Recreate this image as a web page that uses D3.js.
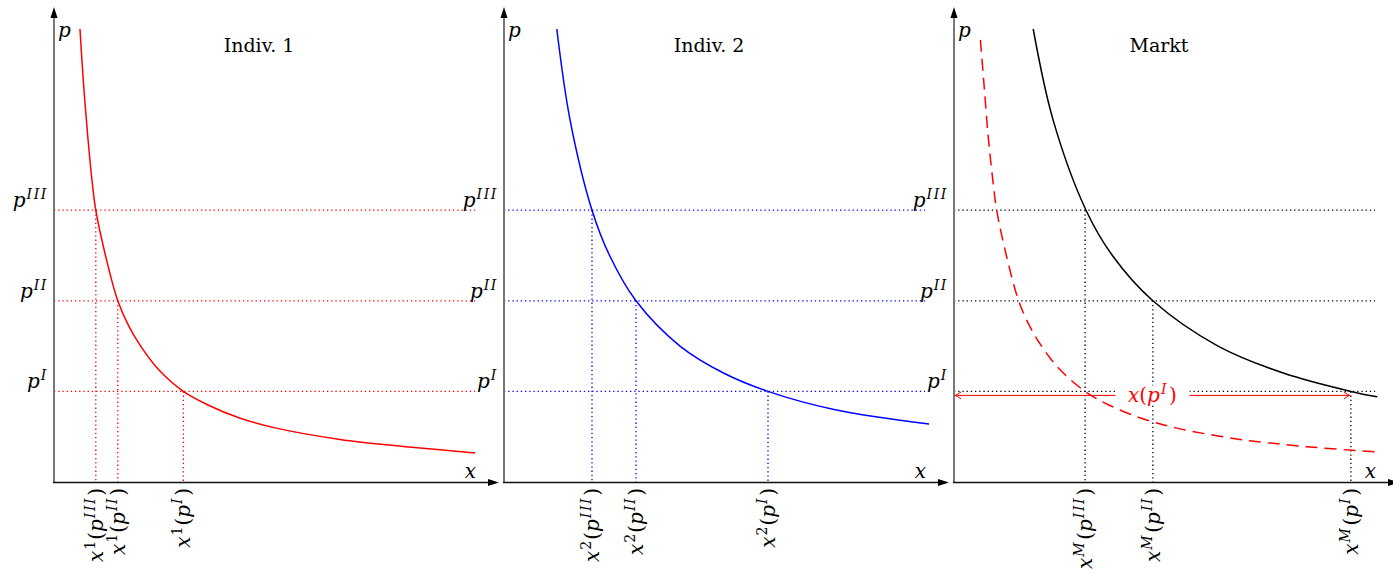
<!DOCTYPE html>
<html><head><meta charset="utf-8">
<script src="https://cdn.jsdelivr.net/npm/d3@7"></script>
<style>html,body{margin:0;padding:0;background:#fff;}</style>
</head><body>
<svg id="c" width="1393" height="574"></svg>
<script>
// ---------- data ----------
const titles = ["Indiv. 1", "Indiv. 2", "Markt"];
const pLevels = [3, 2, 1];               // p^III, p^II, p^I
const pLevelNames = ["III", "II", "I"];
const demandSup = ["1", "2", "M"];
const x1AtLevels = [0.95, 1.45, 2.94];
const x2AtLevels = [2.0, 3.0, 6.0];
const xMAtLevels = [2.98, 4.52, 9.02];
const indiv1Curve = [[0.59,5],[0.67,4.4],[0.77,3.8],[0.87,3.3],[0.95,3.0],[1.17,2.5],[1.45,2.0],[1.7,1.72],[1.97,1.5],[2.36,1.25],[2.94,1.0],[3.5,0.85],[4.2,0.71],[5.0,0.6],[6.5,0.47],[8.0,0.39],[9.57,0.32]];
const indiv2Curve = [[1.2,5],[1.5,4],[2.0,3],[2.4,2.5],[3.0,2],[4.0,1.5],[5.0,1.2],[6.0,1.0],[7.5,0.8],[9.66,0.64]];
const marketCurve = [[1.8,5],[2.25,4],[3.0,3],[3.6,2.5],[4.52,2],[6.0,1.5],[7.5,1.2],[9.02,1.0],[9.62,0.94]];
const indiv1InMarket = [[0.6,4.88],[0.68,4.4],[0.78,3.8],[0.89,3.3],[0.97,3.0],[1.19,2.5],[1.47,2.0],[1.72,1.72],[1.99,1.5],[2.39,1.25],[2.98,1.0],[3.52,0.85],[4.22,0.71],[5.02,0.6],[6.5,0.47],[8.02,0.39],[9.64,0.33]];
const annotX = [0, 9.02];  // x(p^I) span on market axis

// ---------- layout ----------
const svg = d3.select("#c");
const FS = 20, SUP = 14;
const panelX = [54, 504, 954];
const y = d3.scaleLinear().domain([0, 5]).range([482, 29]);
const panels = [
  {title: titles[0], color: "#ff0000", levels: x1AtLevels, curves: [{d: indiv1Curve, c: "#ff0000", dash: null}]},
  {title: titles[1], color: "#0000ff", levels: x2AtLevels, curves: [{d: indiv2Curve, c: "#0000ff", dash: null}]},
  {title: titles[2], color: "#000000", levels: xMAtLevels, curves: [{d: indiv1InMarket, c: "#ff0000", dash: "12,7"}, {d: marketCurve, c: "#000000", dash: null}]}
];

function mathText(sel, parts) {
  let prevSup = false;
  parts.forEach(([t, it, sup]) => {
    const ts = sel.append("tspan").text(t)
      .attr("font-style", it ? "italic" : "normal")
      .attr("font-size", sup ? SUP : FS)
      .attr("letter-spacing", sup && it ? 1.6 : 0);
    if (sup && !prevSup) ts.attr("dy", -8).attr("dx", 1);
    if (!sup && prevSup) ts.attr("dy", 8).attr("dx", 1);
    prevSup = sup;
  });
}

panels.forEach((P, i) => {
  const ox = panelX[i];
  const x = d3.scaleLinear().domain([0, 10]).range([ox, ox + 440]);
  const g = svg.append("g").attr("font-family", "'DejaVu Serif', serif");

  pLevels.forEach((pv, k) => {
    g.append("line").attr("x1", x(0)).attr("x2", x(9.57)).attr("y1", y(pv)).attr("y2", y(pv))
      .attr("stroke", P.color).attr("stroke-width", 1.3).attr("stroke-dasharray", "1.3,2.9");
    g.append("line").attr("x1", x(P.levels[k])).attr("x2", x(P.levels[k])).attr("y1", y(pv)).attr("y2", y(0))
      .attr("stroke", P.color).attr("stroke-width", 1.3).attr("stroke-dasharray", "1.3,2.9");
    const t = g.append("text").attr("x", ox - 6).attr("y", y(pv) - 3).attr("text-anchor", "end").attr("fill", "#000");
    mathText(t, [["p", true, false], [pLevelNames[k], true, true]]);
    const bx = x(P.levels[k]) + 7;
    const r = g.append("text").attr("transform", `translate(${bx},488) rotate(-90)`).attr("text-anchor", "end").attr("fill", "#000");
    mathText(r, [["x", true, false], [demandSup[i], demandSup[i] === "M", true], ["(", false, false], ["p", true, false], [pLevelNames[k], true, true], [")", false, false]]);
  });

  if (i === 2) {
    const ay = y(1) + 4;
    const xa = x(annotX[0]) + 1, xb = x(annotX[1]) - 1;
    g.append("line").attr("x1", xa).attr("x2", xb).attr("y1", ay).attr("y2", ay).attr("stroke", "#ff0000").attr("stroke-width", 1);
    g.append("path").attr("d", `M${xa + 6},${ay - 3.5} Q${xa + 2},${ay - 0.5} ${xa},${ay} Q${xa + 2},${ay + 0.5} ${xa + 6},${ay + 3.5}`).attr("fill", "none").attr("stroke", "#ff0000").attr("stroke-width", 1);
    g.append("path").attr("d", `M${xb - 6},${ay - 3.5} Q${xb - 2},${ay - 0.5} ${xb},${ay} Q${xb - 2},${ay + 0.5} ${xb - 6},${ay + 3.5}`).attr("fill", "none").attr("stroke", "#ff0000").attr("stroke-width", 1);
    const xm = x((annotX[0] + annotX[1]) / 2);
    g.append("rect").attr("x", xm - 37).attr("y", ay - 10).attr("width", 74).attr("height", 19).attr("fill", "#fff");
    const at = g.append("text").attr("x", xm).attr("y", ay + 7).attr("text-anchor", "middle").attr("fill", "#ff0000");
    mathText(at, [["x", true, false], ["(", false, false], ["p", true, false], ["I", true, true], [")", false, false]]);
  }

  const line = d3.line().x(d => x(d[0])).y(d => y(d[1])).curve(d3.curveCatmullRom.alpha(0.5));
  P.curves.forEach(c => {
    g.append("path").datum(c.d).attr("d", line).attr("fill", "none").attr("stroke", c.c)
      .attr("stroke-width", 1.5).attr("stroke-dasharray", c.dash);
  });

  g.append("line").attr("x1", x(0)).attr("x2", x(0)).attr("y1", y(0)).attr("y2", 16).attr("stroke", "#777").attr("stroke-width", 2);
  g.append("path").attr("d", `M${x(0)},7 L${x(0) - 3.5},18 L${x(0) + 3.5},18 Z`).attr("fill", "#000");
  g.append("line").attr("x1", x(0) - 1).attr("x2", ox + 436).attr("y1", y(0) + 0.5).attr("y2", y(0) + 0.5).attr("stroke", "#111").attr("stroke-width", 1.3);
  g.append("path").attr("d", `M${ox + 445},${y(0) + 0.5} L${ox + 434},${y(0) - 3} L${ox + 434},${y(0) + 4} Z`).attr("fill", "#000");

  g.append("text").attr("x", ox + 4).attr("y", 37).attr("font-style", "italic").attr("font-size", FS).text("p");
  g.append("text").attr("x", ox + 422).attr("y", 478).attr("text-anchor", "end").attr("font-style", "italic").attr("font-size", FS).text("x");
  g.append("text").attr("x", ox + 205).attr("y", 52).attr("text-anchor", "middle").attr("font-size", 19).text(P.title);
});
</script>
</body></html>
